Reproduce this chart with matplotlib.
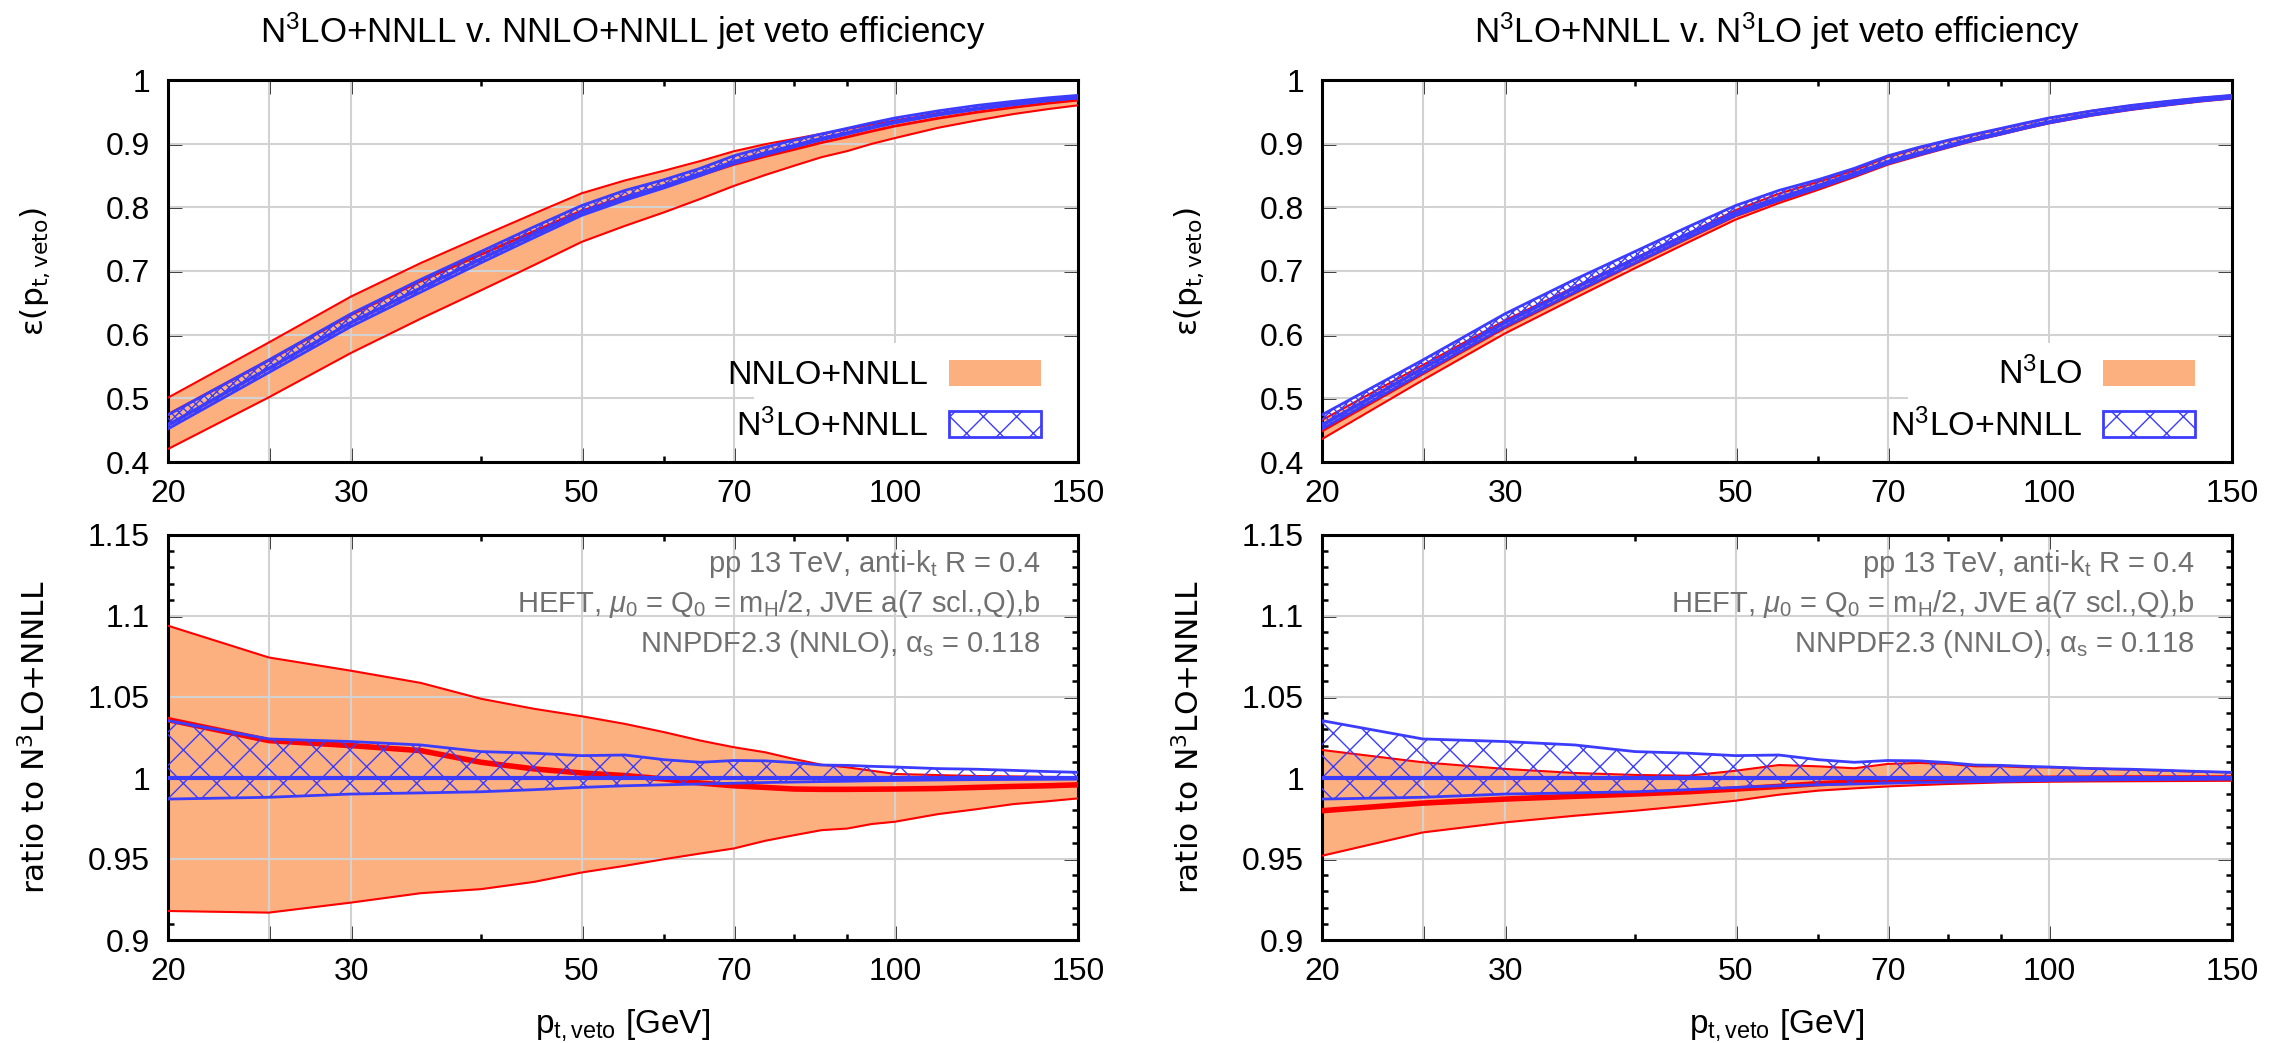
import matplotlib
matplotlib.use("Agg")
import matplotlib.pyplot as plt
import numpy as np
from matplotlib.patches import Patch, Rectangle
from matplotlib.ticker import FixedLocator, FixedFormatter, NullFormatter, MultipleLocator, FormatStrFormatter

plt.rcParams["font.family"] = "Liberation Sans"
plt.rcParams["mathtext.fontset"] = "custom"
plt.rcParams["mathtext.rm"] = "Liberation Sans"
plt.rcParams["mathtext.it"] = "Liberation Sans:italic"
plt.rcParams["hatch.linewidth"] = 1.0

ORANGE = "#fcb080"
RED = "#ff0000"
BLUE = "#3c3cff"
GRID = "#d2d2d2"
GREY = "#707070"

# p_t,veto grid [GeV]
pt = [20, 25, 30, 35, 40, 45, 50, 55, 60, 65, 70, 75, 80, 85, 90, 95, 100, 110, 120, 130, 140, 150]

# N3LO+NNLL central jet veto efficiency
eff_n3lo_nnll = [0.458, 0.547, 0.619, 0.673, 0.719, 0.758, 0.792, 0.815, 0.834, 0.853, 0.8715,
                 0.885, 0.897, 0.908, 0.917, 0.926, 0.934, 0.946, 0.955, 0.962, 0.968, 0.9725]

# ratios to N3LO+NNLL central: N3LO+NNLL band
n3nnll_hi = [1.0354, 1.0241, 1.0225, 1.0204, 1.0163, 1.0153, 1.0138, 1.0142, 1.0113, 1.0097, 1.0108,
             1.0106, 1.0095, 1.008, 1.0078, 1.0072, 1.0068, 1.0058, 1.0054, 1.0047, 1.004, 1.0035]
n3nnll_lo = [0.987, 0.9881, 0.9901, 0.9908, 0.9915, 0.9928, 0.9942, 0.9952, 0.9958, 0.9963, 0.9968,
             0.9972, 0.9975, 0.9978, 0.998, 0.9983, 0.9985, 0.9988, 0.999, 0.9991, 0.9992, 0.9993]

# NNLO+NNLL band
nnlo_hi = [1.094, 1.0744, 1.0662, 1.0587, 1.0489, 1.0427, 1.0381, 1.0334, 1.0283, 1.0231, 1.019,
           1.0159, 1.0117, 1.0082, 1.0066, 1.0045, 1.0025, 1.0018, 1.0012, 1.001, 1.0007, 1.0005]
nnlo_lo = [0.9179, 0.9169, 0.9231, 0.9289, 0.9314, 0.9359, 0.9417, 0.9458, 0.9499, 0.9534, 0.9565,
           0.9612, 0.9647, 0.9678, 0.9688, 0.9716, 0.973, 0.9777, 0.9808, 0.9839, 0.9856, 0.9874]
nnlo_c = [1.036, 1.0231, 1.020, 1.0169, 1.0097, 1.0056, 1.0031, 1.0015, 0.9994, 0.9969, 0.9952,
          0.9942, 0.9932, 0.993, 0.993, 0.9931, 0.9932, 0.9935, 0.9942, 0.9948, 0.9952, 0.9958]

# N3LO band
n3lo_hi = [1.0173, 1.0097, 1.0056, 1.0031, 1.0019, 1.0014, 1.0045, 1.008, 1.0072, 1.006, 1.0087,
           1.0093, 1.0087, 1.0072, 1.0072, 1.0066, 1.0066, 1.006, 1.0051, 1.0045, 1.0039, 1.0035]
n3lo_lo = [0.952, 0.9664, 0.9726, 0.9767, 0.9798, 0.9829, 0.986, 0.9897, 0.9922, 0.9936, 0.9948,
           0.9956, 0.9963, 0.9968, 0.9973, 0.9975, 0.9977, 0.9979, 0.998, 0.9981, 0.9982, 0.9983]
n3lo_c = [0.9798, 0.9845, 0.987, 0.9887, 0.9901, 0.9915, 0.9932, 0.9948, 0.9965, 0.9975, 0.9983,
          0.9987, 0.999, 0.9993, 0.9995, 0.9997, 0.9998, 0.9999, 1.0, 1.0, 1.0, 1.0]

x_major = [20, 25, 30, 50, 70, 100, 150]
x_labels = ["20", "", "30", "50", "70", "100", "150"]
x_minor = [40, 60, 80, 90]
x_grid = [25, 30, 50, 70, 100]

info = [r"pp 13 TeV, anti-k$_\mathregular{t}$ R = 0.4",
        r"HEFT, $\mu_\mathregular{0}$ = Q$_\mathregular{0}$ = m$_\mathregular{H}$/2, JVE a(7 scl.,Q),b",
        r"NNPDF2.3 (NNLO), $\mathregular{α_s}$ = 0.118"]


def style(ax, yticks, minor=None):
    ax.set_xscale("log")
    ax.set_xlim(20, 150)
    ax.set_ylim(yticks[0], yticks[-1])
    ax.xaxis.set_major_locator(FixedLocator(x_major))
    ax.xaxis.set_major_formatter(FixedFormatter(x_labels))
    ax.xaxis.set_minor_locator(FixedLocator(x_minor))
    ax.xaxis.set_minor_formatter(NullFormatter())
    ax.yaxis.set_major_locator(FixedLocator(yticks))
    ax.yaxis.set_major_formatter(FormatStrFormatter("%g"))
    if minor:
        ax.yaxis.set_minor_locator(MultipleLocator(minor))
    ax.tick_params(which="both", direction="in", top=True, right=True, width=1.8, labelsize=23)
    ax.tick_params(which="major", length=10)
    ax.tick_params(which="minor", length=4.5)
    ax.tick_params(axis="x", pad=12)
    ax.tick_params(axis="y", pad=13)
    for s in ax.spines.values():
        s.set_linewidth(2.2)
    for y in yticks[1:-1]:
        ax.axhline(y, color=GRID, lw=1.5, zorder=2.2)
    for x in x_grid:
        ax.axvline(x, color=GRID, lw=1.5, zorder=2.2)


def bands(ax, scale, lo, hi, c, top):
    s = np.asarray(scale)
    lo, hi, c = np.asarray(lo) * s, np.asarray(hi) * s, np.asarray(c) * s
    ax.fill_between(pt, lo, hi, color=ORANGE, lw=0, zorder=2)
    ax.plot(pt, lo, color=RED, lw=1.5, zorder=3)
    ax.plot(pt, hi, color=RED, lw=1.5, zorder=3)
    ax.plot(pt, c, color=RED, lw=2 if top else 4, zorder=3.2)
    blo, bhi = np.asarray(n3nnll_lo) * s, np.asarray(n3nnll_hi) * s
    ax.fill_between(pt, blo, bhi, facecolor="none", edgecolor=BLUE,
                    hatch="xxxx" if top else "x", lw=0, zorder=3.4)
    ax.plot(pt, blo, color=BLUE, lw=2, zorder=3.5)
    ax.plot(pt, bhi, color=BLUE, lw=2, zorder=3.5)
    ax.plot(pt, s * np.ones(len(pt)), color=BLUE, lw=2.5 if top else 3, zorder=3.6)


fig = plt.figure(figsize=(22.79, 10.43), dpi=100)
W, H = 2279, 1043

panels = [
    (168, r"N$^\mathregular{3}$LO+NNLL v. NNLO+NNLL jet veto efficiency", "NNLO+NNLL", nnlo_lo, nnlo_hi, nnlo_c),
    (1322, r"N$^\mathregular{3}$LO+NNLL v. N$^\mathregular{3}$LO jet veto efficiency", r"N$^\mathregular{3}$LO", n3lo_lo, n3lo_hi, n3lo_c),
]

for x0, title, lab, lo, hi, c in panels:
    ax_top = fig.add_axes([x0 / W, 1 - 462 / H, 910 / W, 382 / H])
    ax_bot = fig.add_axes([x0 / W, 1 - 940 / H, 910 / W, 405 / H])

    # efficiency panel
    style(ax_top, [0.4, 0.5, 0.6, 0.7, 0.8, 0.9, 1.0])
    bands(ax_top, eff_n3lo_nnll, lo, hi, c, True)
    ax_top.add_patch(Rectangle((0.6436, 0), 0.3564, 0.3115, transform=ax_top.transAxes,
                               facecolor="white", edgecolor="none", zorder=2.3))
    handles = [Patch(facecolor=ORANGE, edgecolor=ORANGE, lw=0),
               Patch(facecolor="white", edgecolor=BLUE, hatch="x", lw=2)]
    ax_top.legend(handles, [lab, r"N$^\mathregular{3}$LO+NNLL"], loc="lower right",
                  bbox_to_anchor=(0.959, 0.05), frameon=False, markerfirst=False,
                  fontsize=24.5, handlelength=2.7, handleheight=0.8, handletextpad=0.6,
                  labelspacing=0.5, borderpad=0, borderaxespad=0)
    ax_top.set_title(title, fontsize=25, pad=27)
    ax_top.set_ylabel(r"ε(p$_\mathregular{t,veto}$)", family="DejaVu Sans", fontsize=22.5, va="center")
    ax_top.yaxis.set_label_coords(-0.146, 0.5)

    # ratio panel
    style(ax_bot, [0.9, 0.95, 1.0, 1.05, 1.1, 1.15], minor=0.01)
    bands(ax_bot, np.ones(len(pt)), lo, hi, c, False)
    for i, t in enumerate(info):
        ax_bot.text(0.959, [0.909, 0.810, 0.711][i], t, transform=ax_bot.transAxes,
                    ha="right", va="baseline", fontsize=21, color=GREY, zorder=5)
    ax_bot.set_ylabel(r"ratio to N$^\mathregular{3}$LO+NNLL", family="DejaVu Sans", fontsize=22.5, va="center")
    ax_bot.yaxis.set_label_coords(-0.146, 0.5)
    ax_bot.set_xlabel(r"p$_\mathregular{t,veto}$ [GeV]", fontsize=24, va="baseline")
    ax_bot.xaxis.set_label_coords(0.5, -0.2296)

fig.savefig("out.png", dpi=100)
